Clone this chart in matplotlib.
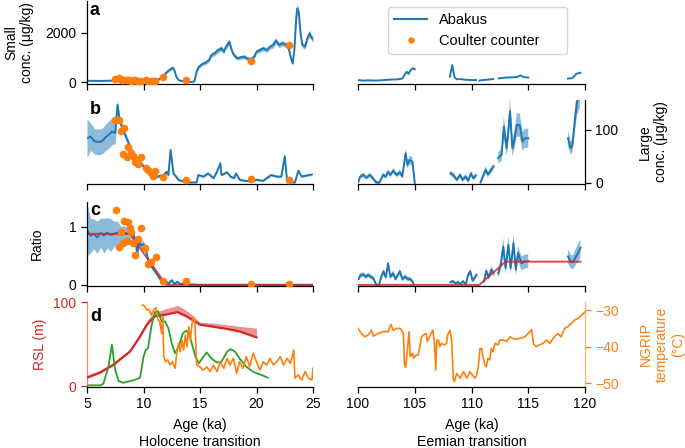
import numpy as np
import matplotlib
matplotlib.use('Agg')
import matplotlib.pyplot as plt
from matplotlib.lines import Line2D

plt.rcParams['font.family'] = ['Liberation Sans', 'DejaVu Sans']
plt.rcParams['font.size'] = 10
plt.rcParams['axes.unicode_minus'] = True

BLUE = '#1f77b4'; ORANGE = '#ff7f0e'; GREEN = '#2ca02c'; RED = '#d62728'
nan = np.nan

# ---------------- Panel a: small particle concentration (ug/kg) ----------------
small_hol_age = [5.0, 5.5, 6.0, 6.5, 7.0, 7.5, 8.0, 8.5, 9.0, 9.5, 10.0, 10.5, 11.0, 11.2, 11.5, 11.8,
                 12.1, 12.4, 12.6, 12.75, 12.9, 13.1, 13.4, 13.8, 14.2, 14.5, 14.7, 14.9, 15.2, 15.5,
                 15.8, 16.0, 16.3, 16.6, 16.9, 17.1, 17.3, 17.6, 17.8, 18.0, 18.3, 18.6, 18.9, 19.2,
                 19.5, 19.8, 20.0, 20.3, 20.6, 20.9, 21.2, 21.5, 21.7, 22.0, 22.3, 22.6, 22.85, 23.05,
                 23.2, 23.35, 23.5, 23.6, 23.75, 23.9, 24.05, 24.3, 24.5, 24.7, 24.85, 25.0]
small_hol_val = [50, 50, 45, 50, 55, 60, 60, 55, 50, 55, 50, 55, 60, 80, 150, 285,
                 420, 530, 585, 460, 220, 80, 40, 0, 0, 30, 420, 625, 735, 790,
                 900, 1100, 1170, 1300, 1370, 1240, 1440, 1645, 1300, 1100, 965, 1005, 1035, 950,
                 925, 1035, 1240, 1300, 1370, 1300, 1440, 1510, 1690, 1510, 1580, 1510, 1370, 965,
                 760, 1300, 2530, 3000, 2800, 1985, 1510, 1440, 1780, 1985, 1820, 1740]
small_hol_err = [20, 20, 20, 20, 20, 20, 20, 20, 20, 20, 20, 20, 20, 25, 30, 40,
                 50, 60, 60, 55, 40, 25, 20, 15, 15, 20, 50, 70, 80, 80,
                 90, 100, 100, 110, 110, 100, 110, 120, 100, 90, 80, 80, 80, 80,
                 80, 80, 90, 100, 100, 100, 100, 110, 120, 110, 110, 110, 100, 80,
                 70, 100, 150, 200, 180, 130, 110, 100, 120, 130, 120, 110]

small_eem_age = [100.0, 100.5, 101.0, 101.5, 102.0, 102.5, 103.0, 103.5, 103.9, 104.1, 104.3, 104.45,
                 104.6, 104.8, 105.0, 105.1,
                 108.1, 108.3, 108.5, 108.7, 109.0, 109.5, 110.0, 110.4, 110.55,
                 110.7, 111.0, 111.5, 111.9, 112.15,
                 112.4, 113.0, 113.5, 114.0, 114.3, 114.6, 115.0, 115.1,
                 118.5, 118.9, 119.2, 119.5, 119.6]
small_eem_val = [80, 60, 70, 60, 70, 90, 100, 110, 140, 290, 420, 330,
                 460, 560, 520, nan,
                 220, 690, 200, 110, 120, 90, 80, 80, nan,
                 60, 80, 100, 120, nan,
                 150, 180, 190, 200, 270, 200, 180, nan,
                 140, 160, 320, 380, 370]

cc_age = [7.48, 7.83, 7.98, 8.16, 8.27, 8.57, 8.66, 8.9, 9.04, 9.22, 9.45, 9.54, 9.78,
          10.2, 10.4, 10.7, 10.8, 11.0, 11.7, 13.8, 19.5, 22.9]
cc_small = [110, 180, 90, 80, 100, 70, 90, 60, 80, 70, 50, 60, 60,
            70, 50, 60, 50, 40, 190, 80, 860, 1510]
cc_large = [119, 118, 98, 55, 103, 48, 67, 56, 50, 40, 42, 35, 48,
            29, 25, 19, 13, 23, 11, 5, 8, 5]

# ---------------- Panel b: large particle concentration (ug/kg) ----------------
large_hol_age = [5.0, 5.3, 5.7, 6.15, 6.4, 6.7, 7.0, 7.2, 7.5, 7.7, 7.9, 8.2, 8.5, 9.0, 9.4, 10.0,
                 10.6, 11.2, 11.8, 12.05, 12.2, 12.4, 12.65, 13.1, 13.5, 14.1, 14.7, 14.85, 15.3,
                 15.7, 16.2, 16.5, 16.8, 16.9, 17.4, 17.7, 18.0, 18.2, 18.5, 19.0, 19.4, 20.0,
                 20.6, 20.9, 21.3, 21.8, 22.2, 22.5, 22.7, 22.9, 23.4, 23.7, 24.0, 24.4, 24.9]
large_hol_val = [84, 87, 78, 77, 80, 87, 92, 97, 94, 147, 116, 100, 84, 59, 47, 31,
                 18, 12, 15, 21, 15, 62, 18, 6, 3, 1, 1, 15, 12,
                 18, 9, 21, 37, 15, 20, 12, 9, 18, 6, 4, 3, 6,
                 4, 9, 15, 12, 12, 50, 6, 1, 1, 23, 12, 14, 16]
large_hol_err = [36, 26, 24, 24, 24, 25, 26, 25, 20, 8, 8, 7, 6, 5, 5, 4,
                 3, 3, 3, 3, 3, 4, 3, 2, 2, 1, 1, 2, 2,
                 2, 2, 2, 3, 2, 2, 2, 2, 2, 2, 1, 1, 2,
                 1, 2, 2, 2, 2, 3, 2, 1, 1, 2, 2, 2, 2]

large_eem_age = [100.0, 100.2, 100.45, 100.75, 101.05, 101.3, 101.6, 101.9, 102.2, 102.45, 102.65,
                 102.85, 103.1, 103.4, 103.7, 103.9, 104.2, 104.35, 104.55, 104.8, 105.0, 105.1,
                 108.15, 108.4, 108.7, 109.0, 109.2, 109.5, 109.7, 109.95, 110.15, 110.4, 110.6,
                 110.8, 111.0, 111.25, 111.45, 111.75, 111.95, 112.15,
                 112.35, 112.65, 112.85, 113.1, 113.4, 113.6, 113.8, 114.0, 114.25, 114.5,
                 114.7, 115.0, 115.1,
                 118.5, 118.75, 118.9, 119.1, 119.3, 119.55]
large_eem_val = [1, 12, 15, 10, 15, 9, 1, 1, 15, 12, 21,
                 15, 23, 15, 20, 12, 56, 34, 43, 40, 0, nan,
                 18, 15, 6, 15, 6, 12, 4, 18, 9, 14, nan,
                 1, 12, 25, 16, 25, 31, nan,
                 47, 53, 106, 65, 135, 65, 84, 109, 109, 78,
                 84, 84, nan,
                 84, 65, 72, 116, 153, 166]
large_eem_err = [3, 4, 4, 4, 4, 4, 3, 3, 4, 4, 5,
                 4, 5, 4, 5, 4, 8, 7, 8, 8, 3, 3,
                 5, 5, 4, 5, 4, 5, 4, 5, 4, 5, 5,
                 4, 5, 6, 5, 6, 6, 6,
                 10, 12, 20, 15, 25, 15, 18, 22, 22, 18,
                 18, 18, 18,
                 15, 12, 14, 20, 25, 25]

# ---------------- Panel c: ratio large/small ----------------
ratio_hol_age = [5.0, 5.3, 5.6, 5.9, 6.2, 6.5, 6.8, 7.1, 7.4, 7.7, 8.0, 8.3, 8.6, 8.9, 9.1, 9.3, 9.45,
                 9.6, 9.8, 10.0, 10.2, 10.4, 10.7, 11.0, 11.2, 11.5, 11.8, 12.0, 12.2, 12.5, 12.7,
                 13.0, 13.3, 13.6, 14.0, 14.5, 15.0, 16.0, 17.0, 18.0, 19.0, 20.0, 21.0, 22.0,
                 23.0, 24.0, 25.0]
ratio_hol_val = [0.95, 0.85, 0.88, 0.82, 0.90, 0.85, 0.90, 0.86, 0.88, 0.90, 0.86, 0.90, 0.88, 0.90,
                 0.88, 0.72, 0.55, 0.75, 0.68, 0.70, 0.62, 0.43, 0.32, 0.24, 0.18, 0.09, 0.03,
                 0.06, 0.02, 0.08, 0.02, 0.05, 0.01, 0.03, 0.01, 0.005, 0.0, 0.0, 0.0, 0.0, 0.0,
                 0.0, 0.0, 0.0, 0.0, 0.0, 0.0]
ratio_hol_err = [0.45, 0.30, 0.26, 0.28, 0.25, 0.30, 0.26, 0.28, 0.22, 0.20, 0.15, 0.12, 0.10, 0.10,
                 0.10, 0.08, 0.08, 0.08, 0.07, 0.06, 0.05, 0.05, 0.04, 0.04, 0.03, 0.02, 0.02,
                 0.02, 0.01, 0.02, 0.01, 0.01, 0.01, 0.01, 0.005, 0.005, 0.0, 0.0, 0.0, 0.0, 0.0,
                 0.0, 0.0, 0.0, 0.0, 0.0, 0.0]

ratio_eem_age = [100.05, 100.2, 100.45, 100.7, 100.9, 101.2, 101.4, 101.6, 101.85, 102.05, 102.25,
                 102.45, 102.65, 102.85, 103.1, 103.3, 103.7, 103.9, 104.15, 104.4, 104.6, 104.8,
                 104.9, 105.0,
                 108.15, 108.4, 108.6, 108.8, 109.0, 109.25, 109.5, 109.7, 109.9, 110.1, 110.3,
                 110.45, 110.6,
                 111.1, 111.3, 111.5, 111.75, 111.95, 112.15,
                 112.35, 112.55, 112.8, 113.0, 113.25, 113.45, 113.7, 113.9, 114.1, 114.4, 114.7,
                 115.0, 115.1,
                 118.5, 118.75, 118.95, 119.2, 119.4, 119.6]
ratio_eem_val = [0.10, 0.16, 0.18, 0.14, 0.17, 0.13, 0.10, 0.0, 0.0, 0.14, 0.23,
                 0.13, 0.37, 0.14, 0.20, 0.10, 0.23, 0.10, 0.14, 0.10, 0.10, 0.06,
                 0.01, nan,
                 0.05, 0.06, 0.02, 0.05, 0.01, 0.06, 0.01, 0.17, 0.23, 0.07, 0.13,
                 0.17, nan,
                 0.06, 0.24, 0.13, 0.26, 0.20, nan,
                 0.20, 0.32, 0.66, 0.29, 0.69, 0.29, 0.72, 0.26, 0.55, 0.37, 0.40,
                 0.41, nan,
                 0.49, 0.40, 0.39, 0.49, 0.55, 0.64]
ratio_eem_err = [0.04, 0.04, 0.04, 0.04, 0.04, 0.04, 0.04, 0.02, 0.02, 0.04, 0.05,
                 0.04, 0.06, 0.04, 0.05, 0.04, 0.05, 0.04, 0.04, 0.04, 0.04, 0.03,
                 0.02, 0.02,
                 0.03, 0.03, 0.02, 0.03, 0.02, 0.03, 0.02, 0.05, 0.05, 0.03, 0.04,
                 0.04, 0.04,
                 0.04, 0.06, 0.05, 0.06, 0.06, 0.06,
                 0.08, 0.10, 0.15, 0.10, 0.15, 0.10, 0.15, 0.10, 0.13, 0.12, 0.12,
                 0.12, 0.12,
                 0.12, 0.12, 0.12, 0.14, 0.15, 0.16]

cc_ratio_age = [7.54, 7.86, 7.98, 8.2, 8.3, 8.57, 8.66, 8.8, 8.9, 9.04, 9.25, 9.54, 9.78,
                10.16, 10.37, 10.7, 11.1, 11.7, 13.8, 19.5, 22.9]
cc_ratio = [1.29, 0.66, 0.92, 0.73, 1.10, 0.75, 1.09, 0.98, 0.92, 0.72, 0.52, 0.79, 0.98,
            0.63, 0.36, 0.39, 0.48, 0.06, 0.07, 0.01, 0.01]

ramp_hol_age = [5.0, 8.8, 12.0, 25.0]
ramp_hol_val = [0.88, 0.88, 0.0, 0.0]
ramp_eem_age = [100.0, 110.7, 113.0, 119.6]
ramp_eem_val = [0.0, 0.0, 0.4, 0.4]

# ---------------- Panel d: RSL, green record, NGRIP temperature ----------------
rsl_age = [5.0, 6.15, 7.3, 8.8, 9.7, 10.3, 11.0, 12.0, 13.0, 13.8, 15.0, 16.0, 17.4, 18.5, 20.0]
rsl_low = [10, 16, 25, 41, 59, 73, 83, 85, 88, 83, 73, 71, 68, 65, 58]
rsl_high = [13, 19, 28, 44, 63, 78, 88, 92, 96, 90, 76, 75, 73, 71, 69]

green_age = [5.0, 6.2, 6.45, 6.9, 7.2, 7.5, 7.8, 8.2, 9.1, 9.7, 10.0, 10.2, 10.4, 10.7, 11.0, 11.3,
             11.6, 11.9, 12.2, 12.5, 12.8, 13.1, 13.5, 13.8, 14.1, 14.6, 14.9, 15.3, 15.6, 16.0,
             16.5, 16.9, 17.4, 17.7, 18.1, 18.5, 19.1, 19.7, 20.5, 21.0]
green_val = [1, 1, 3, 23, 49, 19, 6, 4, 7, 10, 35, 43, 45, 71, 88, 89,
             77, 77, 69, 51, 39, 47, 63, 66, 59, 35, 27, 35, 40, 33,
             28, 29, 41, 44, 41, 33, 23, 17, 13, 10]

ngrip_hol_age = [9.9, 10.1, 10.3, 10.5, 10.7, 10.9, 11.1, 11.3, 11.45, 11.6, 11.7, 11.8, 11.95,
                 12.15, 12.35, 12.55, 12.8, 12.95, 13.1, 13.25, 13.4, 13.55, 13.7, 13.85, 14.0,
                 14.15, 14.3, 14.4, 14.55, 14.7, 15.0, 15.3, 15.6, 15.9, 16.2, 16.5, 16.8, 17.1,
                 17.4, 17.65, 17.95, 18.25, 18.5, 18.8, 19.1, 19.4, 19.7, 20.0, 20.3, 20.6, 20.9,
                 21.2, 21.5, 21.8, 22.1, 22.4, 22.7, 23.0, 23.3, 23.4, 23.7, 24.0, 24.3, 24.6,
                 24.9, 25.0]
ngrip_hol_val = [-28.6, -28.9, -30.0, -29.8, -31.4, -30.0, -29.3, -32.7, -33.2, -36.4, -31.8,
                 -42.7, -44.1, -43.6, -45.0, -44.1, -45.9, -41.4, -39.1, -41.4, -38.2, -40.9,
                 -36.8, -40.0, -34.5, -38.2, -33.6, -31.8, -33.6, -45.0, -45.5, -46.4, -45.5,
                 -46.8, -45.0, -46.8, -44.1, -45.9, -43.2, -45.0, -43.2, -47.3, -44.1, -45.9,
                 -42.7, -45.5, -41.8, -44.1, -46.4, -44.1, -45.0, -43.2, -45.0, -44.1, -42.7,
                 -45.0, -43.2, -44.5, -40.9, -48.6, -47.7, -49.1, -46.8, -48.6, -49.1, -45.9]

ngrip_eem_age = [100.0, 100.3, 100.6, 100.9, 101.2, 101.35, 101.8, 102.2, 102.65, 102.9, 103.1,
                 103.4, 103.7, 104.0, 104.1, 104.2, 104.35, 104.5, 104.6, 104.8, 104.9, 105.1,
                 105.3, 105.45, 105.6, 105.75, 106.0, 106.1, 106.3, 106.5, 106.6, 106.75, 106.85,
                 106.95, 107.1, 107.2, 107.35, 107.6, 107.8, 107.9, 108.1, 108.25, 108.4, 108.5,
                 108.7, 109.0, 109.3, 109.6, 109.85, 110.15, 110.3, 110.45, 110.6, 110.75, 110.9,
                 111.0, 111.2, 111.3, 111.45, 111.6, 111.75, 111.9, 112.05, 112.35, 112.5, 112.8,
                 113.1, 113.4, 113.8, 114.3, 114.7, 115.0, 115.3, 115.45, 115.7, 116.0, 116.3,
                 116.6, 116.9, 117.2, 117.6, 117.9, 118.2, 118.5, 118.8, 119.1, 119.4, 119.7, 120.0]
ngrip_eem_val = [-35.0, -36.4, -37.3, -36.8, -35.5, -37.1, -36.4, -35.9, -35.9, -33.9, -35.5,
                 -35.0, -35.0, -36.4, -45.0, -45.6, -40.9, -35.9, -42.7, -41.8, -43.2, -42.3,
                 -42.3, -40.0, -37.3, -36.8, -36.4, -38.6, -37.3, -35.9, -35.5, -39.5, -46.4,
                 -38.2, -38.2, -40.0, -39.1, -39.5, -39.1, -36.8, -35.5, -38.2, -49.1, -49.5,
                 -47.3, -48.6, -46.8, -48.6, -46.8, -48.0, -48.6, -47.7, -45.5, -40.5, -40.5,
                 -42.7, -45.0, -45.5, -43.2, -43.6, -40.5, -41.4, -39.1, -39.5, -38.2, -38.2,
                 -38.6, -37.3, -38.0, -37.7, -37.3, -36.4, -35.3, -39.1, -40.0, -39.5, -39.1,
                 -38.2, -39.1, -37.7, -36.4, -37.3, -35.0, -34.5, -33.6, -32.7, -32.3, -31.4, -30.5]

# ---------------- Figure layout ----------------
fig = plt.figure(figsize=(6.85, 4.48), dpi=100)
W, H = 685.0, 448.0
colx = [(87, 313), (358, 585)]
rows = [(1, 84), (100, 184), (202, 286), (302, 387)]
axes = [[None, None] for _ in rows]
for r, (t, b) in enumerate(rows):
    for c, (l, rr) in enumerate(colx):
        ax = fig.add_axes([l / W, 1 - b / H, (rr - l) / W, (b - t) / H])
        ax.set_facecolor('none')
        for s in ['top', 'right']:
            ax.spines[s].set_visible(False)
        if c == 1:
            ax.spines['left'].set_visible(False)
            ax.tick_params(axis='y', left=False, labelleft=False)
        ax.set_xlim((5, 25) if c == 0 else (100, 120))
        ax.set_xticks([5, 10, 15, 20, 25] if c == 0 else [100, 105, 110, 115, 120])
        if r < 3:
            ax.tick_params(axis='x', labelbottom=False)
        ax.tick_params(labelsize=10, length=4, width=0.9)
        for s in ax.spines.values():
            s.set_linewidth(0.9)
        axes[r][c] = ax


def band(ax, x, y, e, lw=1.4):
    x = np.asarray(x, float); y = np.asarray(y, float); e = np.asarray(e, float)
    ax.fill_between(x, y - e, y + e, color=BLUE, alpha=0.5, lw=0)
    ax.plot(x, y, color=BLUE, lw=lw)


# Row a
aL, aR = axes[0]
band(aL, small_hol_age, small_hol_val, small_hol_err)
aL.plot(cc_age, cc_small, 'o', color=ORANGE, ms=4.5, zorder=5)
aR.plot(small_eem_age, small_eem_val, color=BLUE, lw=1.4)
for ax in (aL, aR):
    ax.set_ylim(-80, 3300)
aL.set_yticks([0, 2000])
aL.set_ylabel('Small\nconc. (\u03bcg/kg)', labelpad=8)

# Row b
bL, bR = axes[1]
band(bL, large_hol_age, large_hol_val, large_hol_err)
bL.plot(cc_age, cc_large, 'o', color=ORANGE, ms=4.5, zorder=5)
band(bR, large_eem_age, large_eem_val, large_eem_err)
for ax in (bL, bR):
    ax.set_ylim(-2, 156)
bL.spines['left'].set_visible(False)
bL.tick_params(axis='y', left=False, labelleft=False)
bR.spines['right'].set_visible(True)
bR.spines['right'].set_linewidth(0.9)
bR.yaxis.set_label_position('right')
bR.tick_params(axis='y', right=True, labelright=True)
bR.set_yticks([0, 100])
bR.set_ylabel('Large\nconc. (\u03bcg/kg)', labelpad=14)

# Row c
cL, cR = axes[2]
band(cL, ratio_hol_age, ratio_hol_val, ratio_hol_err)
cL.plot(ramp_hol_age, ramp_hol_val, color=RED, lw=1.4, alpha=0.85)
cL.plot(cc_ratio_age, cc_ratio, 'o', color=ORANGE, ms=4.5, zorder=5)
band(cR, ratio_eem_age, ratio_eem_val, ratio_eem_err)
cR.plot(ramp_eem_age, ramp_eem_val, color=RED, lw=1.4, alpha=0.85)
for ax in (cL, cR):
    ax.set_ylim(-0.02, 1.43)
cL.set_yticks([0, 1])
cL.set_ylabel('Ratio', labelpad=18)

# Row d
dL, dR = axes[3]
dL.fill_between(rsl_age, rsl_low, rsl_high, color=RED, alpha=0.5, lw=0)
dL.plot(rsl_age, rsl_low, color=RED, lw=1.6)
dL.set_ylim(-1, 100)
dL.set_yticks([0, 100])
dL.spines['left'].set_color(RED)
dL.spines['left'].set_alpha(0.55)
dL.tick_params(axis='y', colors=RED)
dL.set_ylabel('RSL (m)', color=RED, labelpad=5)

dG = dL.twinx()
dG.set_ylim(-1, 100)
dG.axis('off')
dG.plot(green_age, green_val, color=GREEN, lw=1.3)

dT = dL.twinx()
dT.set_ylim(-51.0, -27.8)
dT.axis('off')
dT.plot(ngrip_hol_age, ngrip_hol_val, color=ORANGE, lw=1.2)

dR.plot(ngrip_eem_age, ngrip_eem_val, color=ORANGE, lw=1.2)
dR.set_ylim(-51.0, -27.8)
dR.spines['right'].set_visible(True)
dR.spines['right'].set_color(ORANGE)
dR.spines['right'].set_alpha(0.6)
dR.yaxis.set_label_position('right')
dR.tick_params(axis='y', right=True, labelright=True, colors=ORANGE)
dR.set_yticks([-30, -40, -50])
dR.set_ylabel('NGRIP\ntemperature\n(\u00b0C)', color=ORANGE, labelpad=14)

dL.set_xlabel('Age (ka)\nHolocene transition', fontsize=10.2, labelpad=5)
dR.set_xlabel('Age (ka)\nEemian transition', fontsize=10.2, labelpad=5)

# panel letters
for ax, lab, yy in [(aL, 'a', 0.99), (bL, 'b', 0.99), (cL, 'c', 1.0), (dL, 'd', 0.93)]:
    ax.text(0.013, yy, lab, transform=ax.transAxes, fontsize=13, fontweight='bold',
            va='top', ha='left')

handles = [Line2D([], [], color=BLUE, lw=1.5),
           Line2D([], [], color=ORANGE, marker='o', ls='none', ms=3.5)]
fig.legend(handles, ['Abakus', 'Coulter counter'], loc='upper left',
           bbox_to_anchor=(388 / W, 1 - 57 / H, 179 / W, 50 / H), mode='expand',
           fontsize=10.5, handlelength=2.3, handletextpad=0.8, labelspacing=0.5,
           borderaxespad=0)

fig.savefig('out.png', dpi=100)
